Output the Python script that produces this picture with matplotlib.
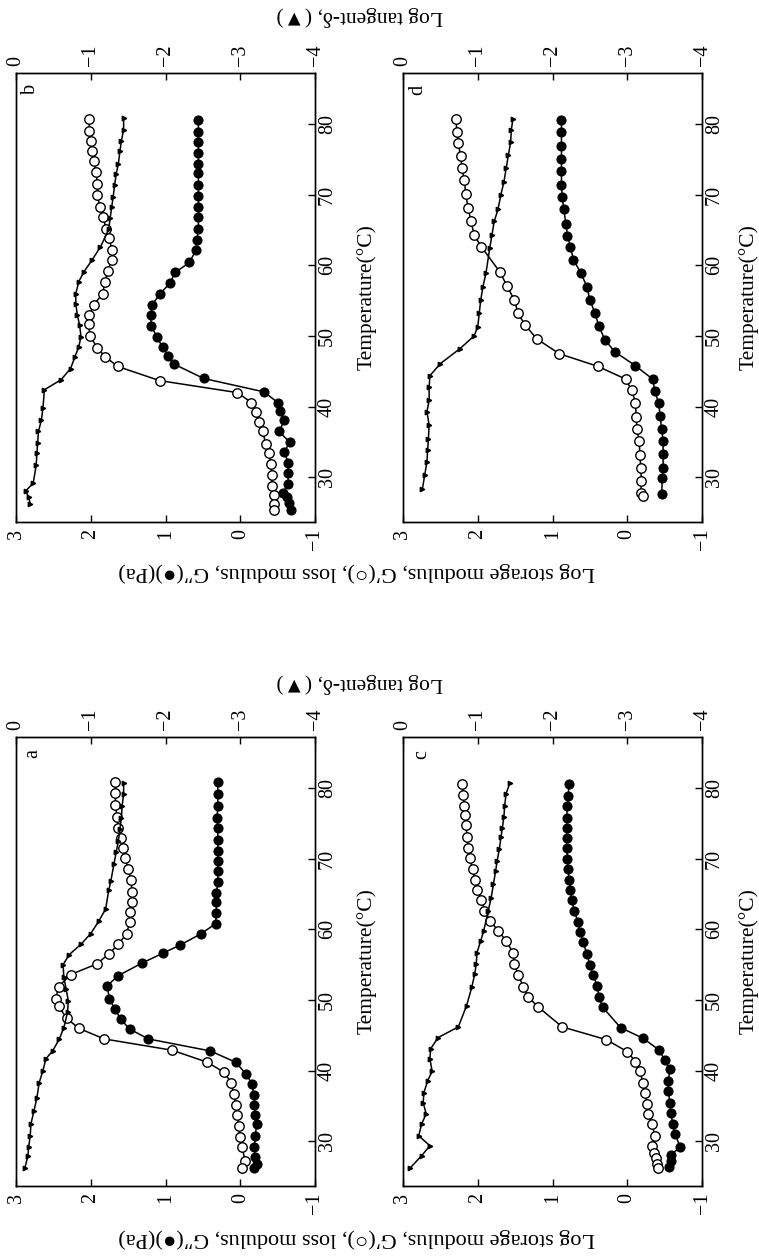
import matplotlib
matplotlib.use('Agg')
import matplotlib.pyplot as plt

plt.rcParams['font.family'] = ['Liberation Serif', 'DejaVu Sans']
plt.rcParams['axes.unicode_minus'] = True

# ---- panel a ----
a_gp_T = [80.8, 79.3, 77.6, 75.9, 74.4, 72.9, 71.5, 70.1, 68.5, 67.0, 65.3, 63.8, 62.4, 61.0, 59.4, 57.9, 56.5,
          55.1, 53.6, 51.9, 50.1, 49.1, 47.4, 46.0, 44.5, 42.9, 41.2, 39.8, 38.3, 36.7, 35.2, 33.8, 32.2, 30.6,
          29.2, 27.2, 26.3]
a_gp = [1.67, 1.67, 1.67, 1.65, 1.63, 1.60, 1.57, 1.54, 1.50, 1.46, 1.45, 1.45, 1.47, 1.48, 1.52, 1.63, 1.76,
        1.92, 2.27, 2.43, 2.47, 2.43, 2.32, 2.16, 1.82, 0.91, 0.44, 0.22, 0.12, 0.09, 0.06, 0.04, 0.02, 0.01,
        -0.02, -0.07, -0.03]
a_gpp_T = [80.8, 79.2, 77.5, 75.8, 74.3, 72.6, 71.1, 69.6, 68.2, 66.7, 65.1, 63.8, 62.3, 60.8, 59.4, 57.8, 56.6,
           55.2, 53.4, 52.0, 50.1, 48.8, 47.3, 45.9, 44.5, 42.8, 41.2, 39.5, 38.1, 36.6, 35.2, 33.8, 32.4, 30.8,
           29.2, 27.8, 26.8, 26.3]
a_gpp = [0.30, 0.30, 0.30, 0.31, 0.30, 0.30, 0.30, 0.30, 0.30, 0.30, 0.32, 0.32, 0.32, 0.33, 0.52, 0.80, 1.04,
         1.32, 1.64, 1.78, 1.75, 1.68, 1.60, 1.48, 1.23, 0.40, 0.06, -0.08, -0.16, -0.18, -0.19, -0.20, -0.22,
         -0.20, -0.19, -0.20, -0.22, -0.18]
a_tan_T = [80.7, 79.1, 77.5, 75.8, 74.2, 72.5, 70.9, 69.2, 66.9, 65.5, 62.9, 61.2, 59.4, 57.9, 56.4, 55.0, 53.2,
           51.6, 49.9, 48.3, 46.1, 44.5, 42.8, 41.7, 40.0, 38.3, 36.2, 34.3, 32.5, 30.8, 29.2, 28.0, 26.3]
a_tan = [-1.44, -1.44, -1.42, -1.41, -1.39, -1.37, -1.34, -1.31, -1.27, -1.24, -1.20, -1.11, -1.00, -0.87, -0.71,
         -0.63, -0.64, -0.67, -0.70, -0.69, -0.64, -0.58, -0.49, -0.40, -0.36, -0.31, -0.28, -0.24, -0.20, -0.19,
         -0.17, -0.16, -0.12]

# ---- panel b ----
b_gp_T = [80.7, 79.0, 77.6, 76.1, 74.7, 73.2, 71.5, 69.9, 68.3, 66.9, 65.2, 63.8, 62.2, 60.8, 59.2, 57.7, 56.0,
          54.4, 53.0, 51.7, 50.0, 48.3, 47.1, 45.7, 43.7, 42.0, 40.6, 39.2, 37.8, 36.5, 34.8, 33.4, 31.9, 30.3,
          28.8, 27.5, 26.3, 25.4]
b_gp = [2.02, 2.02, 2.00, 1.98, 1.96, 1.93, 1.91, 1.91, 1.88, 1.83, 1.80, 1.76, 1.71, 1.72, 1.77, 1.81, 1.84,
        1.96, 2.02, 2.03, 2.01, 1.91, 1.81, 1.64, 1.08, 0.04, -0.15, -0.21, -0.25, -0.30, -0.34, -0.38, -0.41,
        -0.42, -0.42, -0.45, -0.45, -0.45]
b_gpp_T = [80.6, 78.9, 77.5, 75.9, 74.4, 73.0, 71.4, 69.8, 68.3, 66.8, 65.1, 63.6, 62.2, 60.4, 59.0, 57.5, 56.0,
           54.4, 53.0, 51.4, 49.8, 48.4, 47.2, 46.0, 44.0, 42.1, 40.6, 39.4, 38.1, 36.5, 35.0, 33.6, 32.1, 30.7,
           29.1, 27.8, 27.3, 26.4, 25.4]
b_gpp = [0.56, 0.56, 0.56, 0.56, 0.56, 0.56, 0.56, 0.56, 0.56, 0.56, 0.56, 0.58, 0.59, 0.68, 0.87, 0.94, 1.07,
         1.18, 1.20, 1.19, 1.11, 1.04, 0.96, 0.88, 0.49, -0.32, -0.50, -0.53, -0.59, -0.52, -0.66, -0.59, -0.64,
         -0.64, -0.64, -0.57, -0.62, -0.65, -0.68]
b_tan_T = [80.8, 79.2, 77.6, 76.1, 74.4, 72.9, 71.4, 69.7, 68.2, 66.7, 65.1, 62.6, 60.8, 59.1, 57.7, 56.0, 54.6,
           53.0, 51.6, 49.9, 48.5, 47.1, 45.4, 43.8, 42.4, 39.8, 38.1, 36.5, 34.9, 33.4, 31.7, 29.2, 28.1, 27.2, 26.3]
b_tan = [-1.44, -1.44, -1.41, -1.39, -1.37, -1.34, -1.32, -1.30, -1.28, -1.26, -1.24, -1.13, -1.02, -0.91, -0.84,
         -0.80, -0.80, -0.82, -0.85, -0.87, -0.84, -0.79, -0.73, -0.60, -0.38, -0.36, -0.34, -0.30, -0.29, -0.28,
         -0.27, -0.23, -0.13, -0.17, -0.19]

# ---- panel c ----
c_gp_T = [80.6, 79.0, 77.5, 76.1, 74.7, 73.0, 71.5, 70.1, 68.5, 67.0, 65.6, 64.2, 62.6, 61.2, 59.8, 58.4, 56.7,
          55.1, 53.6, 51.9, 50.5, 49.0, 46.2, 44.4, 42.7, 41.3, 39.9, 38.3, 36.8, 35.3, 33.9, 32.5, 30.8, 29.4,
          28.4, 27.6, 26.8, 26.3]
c_gp = [2.21, 2.20, 2.18, 2.17, 2.16, 2.14, 2.13, 2.11, 2.07, 2.04, 2.01, 1.95, 1.91, 1.83, 1.73, 1.62, 1.53,
        1.51, 1.46, 1.39, 1.33, 1.19, 0.87, 0.28, 0.00, -0.11, -0.17, -0.21, -0.24, -0.26, -0.28, -0.33, -0.37,
        -0.33, -0.36, -0.38, -0.40, -0.41]
c_gpp_T = [80.5, 78.8, 77.4, 75.8, 74.4, 72.9, 71.5, 70.0, 68.5, 67.0, 65.6, 64.1, 62.6, 61.1, 59.6, 58.2, 56.5,
           55.0, 53.6, 52.0, 50.5, 49.0, 46.1, 44.6, 42.9, 41.5, 40.2, 38.6, 37.1, 35.5, 34.0, 32.5, 31.0, 29.2,
           28.1, 27.3, 26.4]
c_gpp = [0.78, 0.79, 0.80, 0.81, 0.81, 0.81, 0.81, 0.80, 0.79, 0.78, 0.76, 0.74, 0.71, 0.66, 0.63, 0.59, 0.54,
         0.50, 0.46, 0.40, 0.38, 0.33, 0.09, -0.21, -0.43, -0.50, -0.57, -0.55, -0.55, -0.57, -0.58, -0.61, -0.64,
         -0.71, -0.58, -0.58, -0.56]
c_tan_T = [80.7, 79.2, 77.5, 75.9, 74.4, 73.0, 71.4, 69.7, 68.3, 66.4, 64.5, 62.6, 59.8, 58.4, 56.7, 55.1, 53.7,
           51.8, 49.2, 46.2, 44.7, 43.1, 41.7, 39.9, 38.6, 36.9, 35.5, 33.9, 32.5, 30.8, 29.4, 28.0, 26.3]
c_tan = [-1.43, -1.38, -1.36, -1.35, -1.33, -1.31, -1.29, -1.26, -1.24, -1.21, -1.18, -1.14, -1.08, -1.04, -0.99,
         -0.98, -0.96, -0.92, -0.85, -0.74, -0.47, -0.37, -0.36, -0.39, -0.33, -0.28, -0.27, -0.31, -0.25, -0.21,
         -0.36, -0.25, -0.10]

# ---- panel d ----
d_gp_T = [80.7, 78.9, 77.3, 75.5, 73.7, 72.0, 70.1, 68.1, 66.3, 64.3, 62.6, 59.0, 57.1, 55.1, 53.2, 51.6, 49.6,
          47.5, 45.7, 43.9, 42.3, 40.6, 38.6, 36.8, 35.1, 33.2, 31.4, 29.5, 27.8, 27.4]
d_gp = [2.29, 2.28, 2.26, 2.23, 2.21, 2.18, 2.16, 2.13, 2.09, 2.05, 1.95, 1.70, 1.61, 1.51, 1.46, 1.37, 1.21,
        0.91, 0.39, 0.02, -0.06, -0.11, -0.12, -0.13, -0.16, -0.17, -0.18, -0.19, -0.18, -0.21]
d_gpp_T = [80.6, 78.9, 76.9, 75.1, 73.3, 71.4, 69.7, 67.9, 65.9, 64.2, 62.6, 60.8, 58.9, 57.0, 55.1, 53.2, 51.4,
           49.5, 47.8, 45.8, 43.9, 42.2, 40.5, 38.7, 36.8, 35.1, 33.3, 31.4, 29.9, 27.7]
d_gpp = [0.88, 0.88, 0.88, 0.88, 0.88, 0.88, 0.87, 0.85, 0.82, 0.80, 0.76, 0.72, 0.62, 0.54, 0.50, 0.43, 0.38,
         0.30, 0.17, -0.11, -0.34, -0.37, -0.42, -0.44, -0.46, -0.48, -0.48, -0.48, -0.47, -0.46]
d_tan_T = [80.7, 79.2, 77.4, 75.6, 73.7, 71.8, 70.0, 67.9, 66.2, 64.3, 62.4, 58.9, 57.0, 55.1, 53.2, 51.3, 50.0,
           48.2, 46.1, 44.4, 42.8, 40.9, 39.3, 37.4, 35.5, 33.9, 32.2, 30.3, 28.4]
d_tan = [-1.47, -1.45, -1.44, -1.41, -1.38, -1.35, -1.31, -1.27, -1.22, -1.19, -1.16, -1.11, -1.07, -1.04, -1.02,
         -1.00, -0.95, -0.76, -0.50, -0.36, -0.35, -0.35, -0.32, -0.35, -0.34, -0.33, -0.32, -0.29, -0.26]

mod_ticks = [3, 2, 1, 0, -1]
tan_ticks = [0, -1, -2, -3, -4]
temp_ticks = [30, 40, 50, 60, 70, 80]

W, H = 759, 1256
fig = plt.figure(figsize=(W / 100, H / 100), dpi=100)


def px_rect(x0, y0, x1, y1):
    return [x0 / W, 1 - y1 / H, (x1 - x0) / W, (y1 - y0) / H]


def draw_panel(rect, letter, letter_xy, temp_x, gp_T, gp, gpp_T, gpp, tan_T, tan):
    ax = fig.add_axes(rect)
    ax.plot(gp, gp_T, '-o', color='black', lw=1.1, ms=6.8, mfc='white', mec='black', mew=1.0, zorder=3)
    ax.plot(gpp, gpp_T, '-o', color='black', lw=1.1, ms=6.3, mfc='black', mec='black', zorder=3)
    ax.set_xlim(3, -1)
    ax.set_ylim(23.7, 87.2)
    ax.set_xticks(mod_ticks)
    ax.set_yticks(temp_ticks)
    ax.yaxis.tick_right()
    ax.tick_params(axis='x', direction='in', length=5, width=1, labelsize=14.5, labelrotation=90, pad=5)
    ax.tick_params(axis='y', direction='in', length=5, width=1, labelsize=14.5, labelrotation=90, pad=2)
    for lab in ax.get_yticklabels():
        lab.set_verticalalignment('center')

    ax2 = ax.twiny()
    ax2.plot(tan, tan_T, '->', color='black', lw=1.1, ms=3.2, zorder=4)
    ax2.set_xlim(0, -4)
    ax2.set_xticks(tan_ticks)
    ax2.tick_params(axis='x', direction='in', length=5, width=1, labelsize=14.5, labelrotation=90, pad=5)

    for a in (ax, ax2):
        for s in a.spines.values():
            s.set_linewidth(1.0)

    ax.text(letter_xy[0], letter_xy[1], letter, transform=ax.transAxes, rotation=90,
            ha='center', va='center', fontsize=14.5)
    ax.text(temp_x, 0.5, 'Temperature(°C)', transform=ax.transAxes, rotation=90,
            ha='center', va='center', fontsize=15.5)
    return ax


draw_panel(px_rect(16, 73, 315, 522), 'b', (0.047, 0.964), 1.174,
           b_gp_T, b_gp, b_gpp_T, b_gpp, b_tan_T, b_tan)
draw_panel(px_rect(403, 73, 702, 522), 'd', (0.05, 0.962), 1.155,
           d_gp_T, d_gp, d_gpp_T, d_gpp, d_tan_T, d_tan)
draw_panel(px_rect(16, 737, 315, 1186), 'a', (0.057, 0.962), 1.174,
           a_gp_T, a_gp, a_gpp_T, a_gpp, a_tan_T, a_tan)
draw_panel(px_rect(403, 737, 702, 1186), 'c', (0.064, 0.96), 1.155,
           c_gp_T, c_gp, c_gpp_T, c_gpp, c_tan_T, c_tan)

ylab_left = 'Log storage modulus, G′(○), loss modulus, G″(●)(Pa)'
ylab_right = 'Log tangent-δ, (▼)'
for yc in (572, 1238):
    fig.text(357 / W, 1 - yc / H, ylab_left, rotation=180, ha='center', va='center', fontsize=16)
for yc in (16, 683):
    fig.text(360 / W, 1 - yc / H, ylab_right, rotation=180, ha='center', va='center', fontsize=15.5)

fig.savefig('out.png', dpi=100)
